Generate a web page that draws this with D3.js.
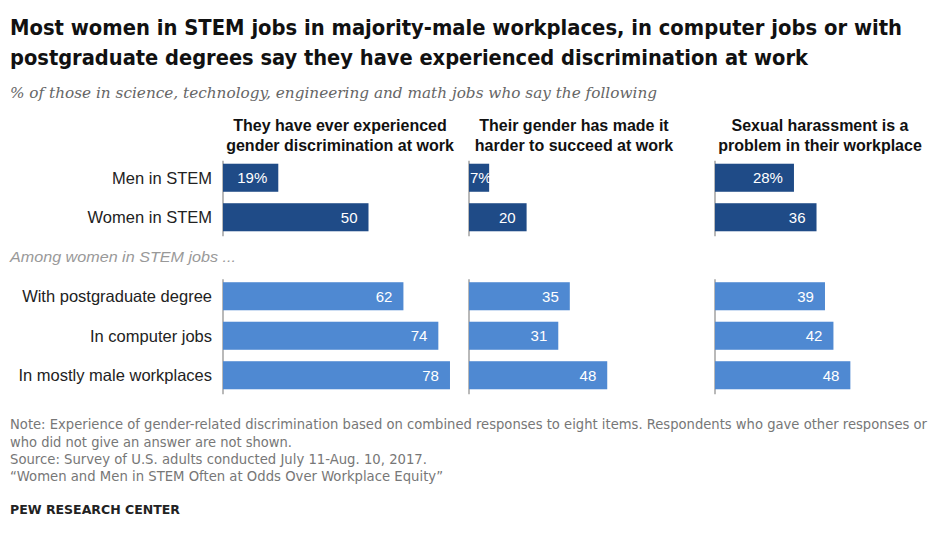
<!DOCTYPE html>
<html><head><meta charset="utf-8">
<script src="https://cdn.jsdelivr.net/npm/d3@7"></script>
<style>body{margin:0;background:#fff}svg{display:block}</style>
</head><body><svg id="c" width="936" height="534"></svg>
<script>
const titleLines = ["Most women in STEM jobs in majority-male workplaces, in computer jobs or with",
  "postgraduate  degrees say they have experienced discrimination at work"];
const subtitle = "% of those in science, technology, engineering and math jobs who say the following";
const panelTitles = [["They have ever experienced","gender discrimination at work"],
  ["Their gender has made it","harder to succeed at work"],
  ["Sexual harassment is a","problem in their workplace"]];
const rows = ["Men in STEM","Women in STEM","__sep__","With postgraduate degree","In computer jobs","In mostly male workplaces"];
const groupLabel = "Among women in STEM jobs ...";
const discrimination = [19,50,null,62,74,78];
const harder = [7,20,null,35,31,48];
const harassment = [28,36,null,39,42,48];
const series = [discrimination, harder, harassment];
const notes = ["Note: Experience of gender-related discrimination based on combined responses to eight items. Respondents who gave other responses or",
  "who did not give an answer are not shown.",
  "Source: Survey of U.S. adults conducted July 11-Aug. 10, 2017.",
  "\u201cWomen and Men in STEM Often at Odds Over Workplace Equity\u201d"];
const brand = "PEW RESEARCH CENTER";

const svg = d3.select("#c");
const narrow = "'Liberation Sans Narrow','DejaVu Sans Condensed','Arial Narrow',sans-serif";
const sans = "'Liberation Sans',Arial,sans-serif";
const dark = "#1f4b87", light = "#4f89d2";

// title
const titleW = [892, 798];
titleLines.forEach((t,i)=>{
  svg.append("text").attr("x",10).attr("y",35+i*30).text(t)
    .attr("font-family",narrow).attr("font-weight","bold").attr("font-size",22)
    .attr("fill","#111").attr("textLength",titleW[i]).attr("lengthAdjust","spacingAndGlyphs");
});
svg.append("text").attr("x",10).attr("y",98).text(subtitle)
  .attr("font-family","'DejaVu Serif',Georgia,serif").attr("font-style","italic").attr("font-size",14.5)
  .attr("fill","#666").attr("textLength",647).attr("lengthAdjust","spacingAndGlyphs");

const y = d3.scaleBand().domain(rows).range([158,395]).paddingInner(0.29).paddingOuter(0.145);
const panelX = [223, 469, 715];
const panelW = [291, 288, 282];
const headCx = [340, 574, 820];

// row labels
rows.forEach((r,i)=>{
  if (r === "__sep__") {
    svg.append("text").attr("x",10).attr("y",y(r)+y.bandwidth()/2+5).text(groupLabel)
      .attr("font-family",sans).attr("font-style","italic").attr("font-size",14)
      .attr("fill","#999").attr("textLength",226).attr("lengthAdjust","spacingAndGlyphs");
  } else {
    svg.append("text").attr("x",212).attr("y",y(r)+y.bandwidth()/2+6).attr("text-anchor","end").text(r)
      .attr("font-family",sans).attr("font-size",16.5).attr("fill","#222");
  }
});

series.forEach((vals,p)=>{
  const x = d3.scaleLinear().domain([0,100]).range([panelX[p], panelX[p]+panelW[p]]);
  const g = svg.append("g");
  panelTitles[p].forEach((t,i)=>{
    g.append("text").attr("x",headCx[p]).attr("y",131+i*20).attr("text-anchor","middle").text(t)
      .attr("font-family",sans).attr("font-weight","bold").attr("font-size",16).attr("fill","#111");
  });
  // baselines
  [[rows[0],rows[1]],[rows[3],rows[5]]].forEach(([a,b])=>{
    g.append("line").attr("x1",x(0)).attr("x2",x(0))
      .attr("y1",y(a)-3).attr("y2",y(b)+y.bandwidth()+5)
      .attr("stroke","#8a8a8a").attr("stroke-width",1.2);
  });
  rows.forEach((r,i)=>{
    const v = vals[i];
    if (v == null) return;
    g.append("rect").attr("x",x(0)).attr("y",y(r)).attr("width",x(v)-x(0)).attr("height",y.bandwidth())
      .attr("fill", i < 2 ? dark : light);
    const label = i === 0 ? v + "%" : String(v);
    const t = g.append("text").attr("y",y(r)+y.bandwidth()/2+5.5).text(label)
      .attr("font-family",sans).attr("font-size",15).attr("fill","#fff").attr("text-anchor","end");
    const tw = t.node().getComputedTextLength();
    t.attr("x", Math.max(x(v)-11, x(0)+tw+1));
  });
});

// notes
const noteW = [917, 282, 417, 433];
notes.forEach((t,i)=>{
  svg.append("text").attr("x",10).attr("y",[429,447,464,481][i]).text(t)
    .attr("font-family",narrow).attr("font-size",13.5).attr("fill","#777")
    .attr("textLength",noteW[i]).attr("lengthAdjust","spacingAndGlyphs");
});
svg.append("text").attr("x",10).attr("y",514).text(brand)
  .attr("font-family",narrow).attr("font-weight","bold").attr("font-size",13)
  .attr("fill","#222").attr("textLength",170).attr("lengthAdjust","spacingAndGlyphs");
</script></body></html>
